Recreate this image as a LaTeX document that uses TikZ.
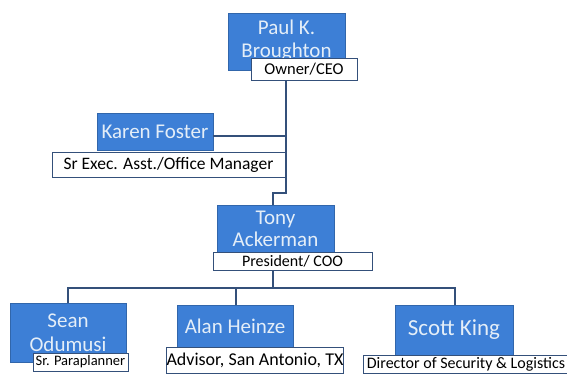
\documentclass[tikz,border=0pt]{standalone}
\usepackage{fontspec}
\setmainfont{Carlito}
\definecolor{boxblue}{HTML}{3D7FD6}
\definecolor{boxtext}{HTML}{E4EEF8}
\definecolor{linecol}{HTML}{34507A}
\begin{document}
\begin{tikzpicture}[x=1pt,y=-1pt,
  person/.style={fill=boxblue,draw=boxblue!80!black,line width=0.4pt,text=boxtext,font=\fontsize{21}{24}\selectfont,align=center,inner sep=0pt},
  role/.style={fill=white,draw=linecol,line width=0.9pt,text=black,inner sep=0pt},
  conn/.style={draw=linecol,line width=1.3pt}]
\useasboundingbox (0,0) rectangle (567,373);
% people
\node[person,minimum width=117pt,minimum height=57pt] (paul) at (286.5,41.5) {\raisebox{6pt}{\begin{tabular}{@{}c@{}}Paul K.\\[-1pt]Broughton\end{tabular}}};
\node[person,minimum width=116pt,minimum height=37pt] (karen) at (155,131.5) {Karen Foster};
\node[person,minimum width=117pt,minimum height=47pt] (tony) at (275.5,228.5) {Tony\\[-2pt]Ackerman};
\node[person,minimum width=116pt,minimum height=59pt] (sean) at (68,332.5) {Sean\\Odumusi};
\node[person,minimum width=116pt,minimum height=43pt] (alan) at (235,326.5) {\raisebox{-3pt}{Alan Heinze}};
\node[person,minimum width=118pt,minimum height=50pt,font=\fontsize{23}{26}\selectfont] (scott) at (454,330) {Scott King};
% roles
\node[role,minimum width=106pt,minimum height=22pt,font=\fontsize{16.5}{18}\selectfont] (owner) at (304,69) {Owner/CEO};
\node[role,minimum width=233pt,minimum height=25pt,font=\fontsize{17.5}{19}\selectfont] (exec) at (168.5,164.5) {Sr Exec. Asst./Office Manager};
\node[role,minimum width=159pt,minimum height=18pt,font=\fontsize{16}{18}\selectfont] (pres) at (292.5,261) {President/ COO};
\node[role,minimum width=95pt,minimum height=18pt,font=\fontsize{14.5}{16}\selectfont] (para) at (80.5,362) {Sr. Paraplanner};
\node[role,minimum width=174pt,minimum height=26pt,font=\fontsize{18}{20}\selectfont] (advisor) at (255,360) {Advisor, San Antonio, TX};
\node[role,minimum width=206pt,minimum height=18pt,font=\fontsize{16}{18}\selectfont] (director) at (466,364) {Director of Security \& Logistics};
% connector points
\coordinate (trunktop) at (286,80);
\coordinate (jog) at (286,193);
\coordinate (tonyin) at (273,205);
\coordinate (karenout) at (213,136);
\coordinate (presout) at (273,270);
\coordinate (bus) at (273,288);
\coordinate (seanin) at (68,303);
\coordinate (alanin) at (236,305);
\coordinate (scottin) at (455,305);
% connectors
\draw[conn] (trunktop) -- (jog) -| (tonyin);
\draw[conn] (karenout) -- (karenout -| jog);
\draw[conn] (presout) -- (bus);
\draw[conn] (seanin) |- (bus -| scottin) -- (scottin);
\draw[conn] (alanin) -- (alanin |- bus);
\end{tikzpicture}
\end{document}
